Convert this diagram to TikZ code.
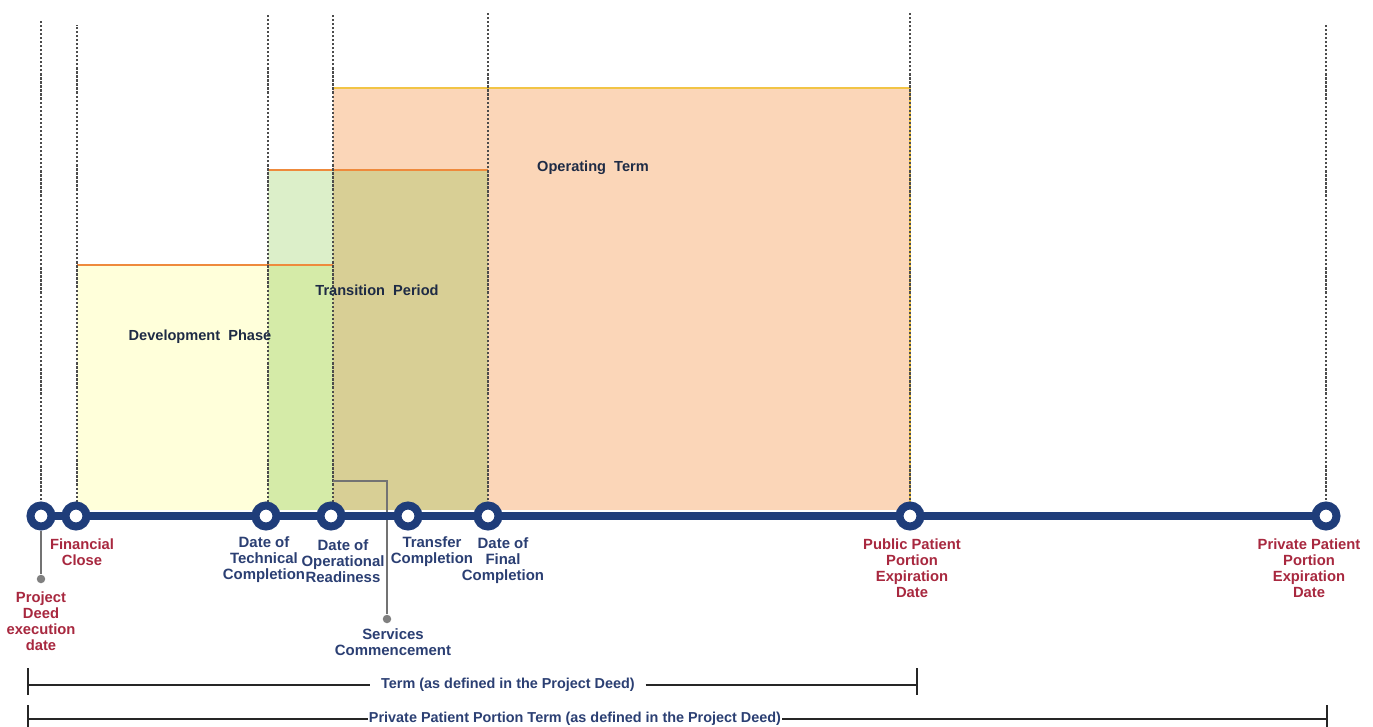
\documentclass[tikz,border=0pt]{standalone}
\usepackage{fontspec}
\setmainfont{Liberation Sans}
\definecolor{tl}{HTML}{1F3D7A}
\definecolor{navy}{HTML}{2B3F73}
\definecolor{dred}{HTML}{A8283F}
\definecolor{dark}{HTML}{1E2B45}
\definecolor{peach}{HTML}{FBD6B8}
\definecolor{olive}{HTML}{D8CF95}
\definecolor{palegreen}{HTML}{DCEFC9}
\definecolor{midgreen}{HTML}{D5EBA8}
\definecolor{paleyellow}{HTML}{FFFFDA}
\definecolor{gold}{HTML}{F2C445}
\definecolor{orng}{HTML}{EE8A3C}
\begin{document}
\begin{tikzpicture}[x=0.02cm,y=-0.02cm,
  mile/.style={circle, draw=tl, line width=0.16cm, fill=white, minimum size=0.42cm, inner sep=0pt},
  guide/.style={densely dotted, line width=1.3pt, draw=black!70},
  navylbl/.style={font=\bfseries\fontsize{8.5}{9.1}\selectfont, text=navy, align=center, inner sep=1pt},
  redlbl/.style={font=\bfseries\fontsize{8.4}{9.1}\selectfont, text=dred, align=center, inner sep=1pt},
  phaselbl/.style={font=\bfseries\fontsize{8.3}{10}\selectfont, text=dark, inner sep=1pt},
  callout/.style={draw=black!55, line width=0.9pt},
  cdot/.style={circle, fill=black!50, inner sep=0pt, minimum size=0.17cm},
  spanline/.style={draw=black!85, line width=0.9pt},
  spanlbl/.style={font=\bfseries\fontsize{8.2}{9}\selectfont, text=navy}
]
\useasboundingbox (0,0) rectangle (1373,727);
\fill[white] (0,0) rectangle (1373,727);

% phase areas
\fill[paleyellow] (77,265) rectangle (268,510);
\fill[midgreen] (268,265) rectangle (333,510);
\fill[palegreen] (268,170) rectangle (333,265);
\fill[peach] (333,88) rectangle (910,510);
\fill[olive] (333,170) rectangle (488,510);
\draw[gold, line width=1.6pt] (333,88) -- (910,88) -- (910,510);
\draw[orng, line width=1.4pt] (268,170) -- (488,170);
\draw[orng, line width=1.4pt] (77,265) -- (333,265);

% milestones
\coordinate (m1) at (41,516);
\coordinate (m2) at (76,516);
\coordinate (m3) at (266,516);
\coordinate (m4) at (331,516);
\coordinate (m5) at (408,516);
\coordinate (m6) at (488,516);
\coordinate (m7) at (910,516);
\coordinate (m8) at (1326,516);

% dotted guides
\draw[guide] (m1) -- (41,20);
\draw[guide] (77,510) -- (77,25);
\draw[guide] (268,510) -- (268,13);
\draw[guide] (333,510) -- (333,13);
\draw[guide] (m6) -- (488,13);
\draw[guide] (m7) -- (910,13);
\draw[guide] (m8) -- (1326,25);

% phase labels
\node[phaselbl] (op) at (593,168) {Operating\ \ Term};
\node[phaselbl] (tp) at (377,290) {Transition\ \ Period};
\node[phaselbl] (dp) at (200,337) {Development\ \ Phase};

% services callout
\coordinate (sc0) at (333,481);
\node[cdot] (scdot) at (387,619) {};
\draw[callout] (sc0) -| (scdot);

% timeline
\coordinate (tlA) at (27,516);
\coordinate (tlB) at (1340,516);
\draw[tl, line width=0.16cm] (tlA) -- (tlB);

\node[mile] (n1) at (m1) {};
\node[mile] (n2) at (m2) {};
\node[mile] (n3) at (m3) {};
\node[mile] (n4) at (m4) {};
\node[mile] (n5) at (m5) {};
\node[mile] (n6) at (m6) {};
\node[mile] (n7) at (m7) {};
\node[mile] (n8) at (m8) {};

% project deed callout
\node[cdot] (pddot) at (41,579) {};
\draw[callout] (n1.south) -- (pddot);

% labels
\node[redlbl] (l1) at (41,621) {Project\\Deed\\execution\\date};
\node[redlbl] (l2) at (82,552) {Financial\\Close};
\node[navylbl] (l3) at (264,560) {Date of\\Technical\\Completion};
\node[navylbl] (l4) at (343,561) {Date of\\Operational\\Readiness};
\node[navylbl] (l5) at (432,552) {Transfer\\Completion};
\node[navylbl] (l6) at (503,561) {Date of\\Final\\Completion};
\node[navylbl] (l7) at (393,642) {Services\\Commencement};
\node[redlbl] (l8) at (912,568) {Public Patient\\Portion\\Expiration\\Date};
\node[redlbl] (l9) at (1309,568) {Private Patient\\Portion\\Expiration\\Date};

% term spans
\coordinate (t1) at (28,685);
\coordinate (t2) at (917,685);
\node[spanlbl, inner sep=6pt] (tl1) at (508,685) {Term (as defined in the Project Deed)};
\draw[spanline] (t1) -- (tl1.west);
\draw[spanline] (tl1.east) -- (t2);
\draw[spanline] (28,668) -- (28,695);
\draw[spanline] (917,668) -- (917,695);

\coordinate (p1) at (28,719);
\coordinate (p2) at (1327,719);
\node[spanlbl, inner sep=0.5pt] (tl2) at (575,719) {Private Patient Portion Term (as defined in the Project Deed)};
\draw[spanline] (p1) -- (tl2.west);
\draw[spanline] (tl2.east) -- (p2);
\draw[spanline] (28,705) -- (28,727);
\draw[spanline] (1327,705) -- (1327,727);
\end{tikzpicture}
\end{document}
